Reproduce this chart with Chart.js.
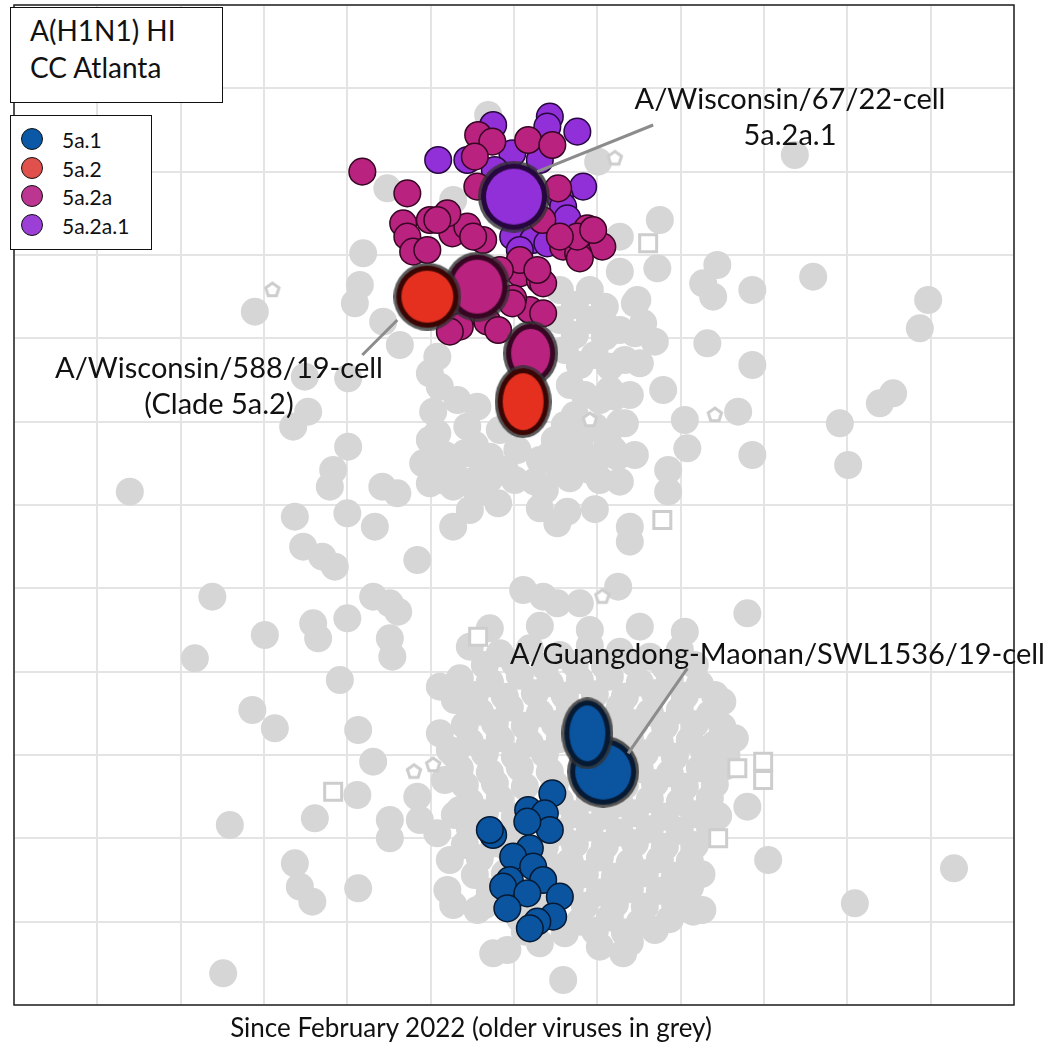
<!DOCTYPE html>
<html>
<head>
<meta charset="utf-8">
<script src="https://cdn.jsdelivr.net/npm/chart.js@4.4.1/dist/chart.umd.min.js"></script>
<style>
  body { margin: 0; background: #fff; font-family: Lato, "Open Sans", sans-serif; color: #111; }
  #wrap { position: relative; width: 1046px; height: 1042px; }
  .box { position: absolute; box-sizing: border-box; background: #fff; border: 1.5px solid #111; }
  .lbl { position: absolute; white-space: nowrap; line-height: 36px; }
  .row { position: absolute; left: 10px; height: 24px; line-height: 24px; font-size: 21px; }
  .dot { position: absolute; left: 0; top: 0; width: 22px; height: 22px; box-sizing: border-box; border-radius: 50%; border: 1.5px solid #111; }
  .row span { position: absolute; left: 41px; top: 0; }
</style>
</head>
<body>
<div id="wrap">
  <canvas id="map" width="1046" height="1042"></canvas>

  <div class="box" style="left:10px;top:7px;width:213px;height:96px;font-size:28px;line-height:37px;padding:4px 0 0 19px;">A(H1N1) HI<br>CC Atlanta</div>
  <div class="box" id="legend" style="left:10px;top:115px;width:142px;height:135px;"></div>

  <div class="lbl" style="left:590px;top:80px;width:400px;text-align:center;font-size:29px;">A/Wisconsin/67/22-cell<br>5a.2a.1</div>
  <div class="lbl" style="left:19px;top:349px;width:400px;text-align:center;font-size:29px;">A/Wisconsin/588/19-cell<br>(Clade 5a.2)</div>
  <div class="lbl" style="left:510px;top:635px;font-size:29px;">A/Guangdong-Maonan/SWL1536/19-cell</div>
  <div class="lbl" style="left:171px;top:1009px;width:600px;text-align:center;font-size:26px;">Since February 2022 (older viruses in grey)</div>
</div>

<script>
// clade names as in the legend
const clades = ['5a.1', '5a.2', '5a.2a', '5a.2a.1'];

// older viruses, map units (1 grid square = 1 antigenic unit)
const greyOutliers = [
  [9.37,10.20],[5.69,10.68],[4.48,9.80],[5.27,9.66],[7.01,10.12],[7.75,9.42],[7.27,9.22],[4.19,9.02],
  [7.72,8.84],[8.44,8.88],[8.27,8.66],[8.39,8.50],[8.86,8.58],[9.59,8.74],[10.97,8.46],[10.87,8.12],
  [8.32,7.94],[8.86,7.68],[10.55,7.34],[10.39,7.22],[9.91,6.98],[10.01,6.48],[8.69,7.12],[8.05,7.02],
  [8.08,6.68],[8.86,6.60],[7.85,6.42],[7.85,6.16],[7.39,5.74],[7.39,5.56],[7.25,5.02],[8.80,4.70],
  [9.05,1.74],[10.09,1.22],[11.28,1.64],[8.80,2.38],[8.65,3.20],[8.50,3.64],[8.26,1.14],[8.11,1.42],
  [1.39,6.16],[2.89,8.32],[2.38,4.90],[3.01,4.44],[2.17,4.16],[2.86,3.54],[3.13,3.32],[2.59,2.16],[2.51,0.38]
];
const greyMiddle = [
  [4.15,8.64],[4.09,8.42],[4.43,8.20],[4.63,7.92],[4.01,7.52],[3.49,7.54],[3.53,7.12],[3.35,6.94],
  [4.01,6.70],[3.83,6.42],[3.79,6.22],[3.37,5.86],[4.00,5.90],[4.33,5.74],[4.42,6.22],[4.60,6.14],
  [4.91,6.50],[4.99,6.26],[5.03,7.12],[4.99,6.78],[3.47,5.50],[3.70,5.38],[3.85,5.26],[4.84,5.34],
  [4.31,4.90],[4.51,4.82],[5.08,7.78],[4.99,7.58]
];
const greyUpper = [
  [7.48,8.46],[7.55,8.18],[7.69,7.96],[7.79,7.38],[7.24,6.58],[7.27,6.98],[7.27,8.80],[7.12,8.14],
  [5.11,7.42],[5.32,7.26],[5.56,7.18],[5.44,6.94],[5.08,6.86],[4.99,6.54],[5.62,6.48],[6.04,6.66],
  [6.31,6.54],[5.27,6.22],[5.56,6.14],[5.81,6.02],[5.27,5.74],[6.52,5.78],[6.11,4.98],[6.35,4.90],
  [6.52,4.82],[6.79,4.82],[7.15,7.38],[7.19,6.66],[7.12,6.78],[6.55,8.58],[6.91,8.58],[6.55,8.22],
  [6.91,8.22],[7.27,8.10],[6.61,7.86],[6.97,7.80],[7.33,7.74],[6.67,7.44],[7.03,7.26],[7.39,7.32],
  [6.73,7.08],[6.49,6.78],[6.79,6.78],[5.83,6.90],[5.53,6.72],[6.55,6.42],[6.91,6.42],[5.29,6.54],
  [5.89,6.42],[6.37,6.18],
  [6.73,8.40],[7.09,8.38],[7.45,8.42],[6.73,8.04],[7.09,8.02],[7.45,8.06],[6.79,7.68],[7.15,7.66],
  [7.51,7.70],[6.85,7.32],[7.21,7.30],[6.61,6.96],[6.97,6.94],[7.33,6.98],[5.17,6.60],[5.41,6.62],
  [5.71,6.58],[6.43,6.60],[6.73,6.62],[7.03,6.58],[7.45,6.60],[5.11,6.30],[5.41,6.28],[5.71,6.32],
  [6.01,6.30],[6.25,6.28],[6.67,6.32],[7.03,6.30],[7.27,6.28],[5.47,5.94],[6.31,5.96],[6.64,5.92],[6.97,5.95]
];
const greyLower = [
  [3.59,4.58],[3.65,4.40],[4.00,4.64],[4.61,4.72],[4.51,4.40],[4.54,4.18],[3.91,3.90],[5.11,3.82],
  [4.13,3.30],[4.31,2.92],[4.12,2.52],[3.61,2.24],[4.51,2.22],[4.51,2.00],[4.84,2.50],[4.87,2.22],
  [5.08,2.06],[3.37,1.70],[3.43,1.42],[3.58,1.24],[4.13,1.40],[5.20,1.38],[5.56,1.14],[5.75,0.62],
  [5.11,3.26],[5.23,3.06],[5.71,3.86],[5.51,3.62],[6.59,0.30],[7.31,0.62],[8.15,1.12],[5.92,0.66],
  [5.27,1.20],[5.29,3.66],[5.17,2.70],[5.35,2.34],[5.23,1.74],
  [5.71,4.52],[6.31,4.55],[6.91,4.50],[7.51,4.54],[8.05,4.48],
  [5.47,4.30],[5.83,4.22],[6.19,4.28],[6.55,4.20],[6.91,4.31],[7.27,4.24],[7.63,4.18],[7.99,4.26],
  [5.65,4.08],[6.01,4.10],[6.37,4.06],[6.73,4.09],[7.09,4.07],[7.45,4.10],[7.81,4.06],[8.17,4.08],
  [5.35,3.92],[5.71,3.88],[6.07,3.95],[6.43,3.86],[6.79,3.90],[7.15,3.94],[7.51,3.87],[7.87,3.91],[8.23,3.85],
  [5.53,3.72],[5.89,3.70],[6.25,3.74],[6.61,3.71],[6.97,3.73],[7.33,3.70],[7.69,3.74],[8.05,3.71],[8.41,3.72],
  [5.59,3.52],[5.95,3.57],[6.31,3.50],[6.67,3.55],[7.27,3.58],[7.63,3.51],[7.99,3.54],[8.35,3.49],
  [5.41,3.36],[5.77,3.38],[6.13,3.35],[6.49,3.37],[7.15,3.34],[7.45,3.38],[7.81,3.35],[8.17,3.37],[8.50,3.34],
  [5.47,3.16],[5.83,3.20],[6.19,3.14],[6.55,3.19],[7.39,3.21],[7.75,3.15],[8.11,3.18],[8.41,3.13],
  [5.29,3.00],[5.65,3.02],[6.01,2.98],[6.37,3.01],[7.21,2.99],[7.57,3.02],[7.93,2.98],[8.29,3.01],[8.55,3.00],
  [5.35,2.84],[5.71,2.79],[6.07,2.85],[6.43,2.80],[7.51,2.83],[7.87,2.78],[8.23,2.84],[8.53,2.86],
  [5.41,2.64],[5.77,2.66],[6.13,2.62],[6.49,2.65],[7.33,2.63],[7.69,2.66],[8.05,2.62],[8.41,2.65],
  [5.47,2.44],[5.83,2.48],[6.55,2.45],[6.91,2.49],[7.27,2.42],[7.63,2.47],[7.99,2.44],[8.35,2.48],
  [5.29,2.28],[5.65,2.30],[6.01,2.26],[6.73,2.29],[7.09,2.27],[7.45,2.30],[7.81,2.26],[8.17,2.29],[8.45,2.27],
  [5.47,2.12],[6.55,2.08],[6.91,2.13],[7.27,2.07],[7.63,2.11],[7.99,2.09],[8.35,2.14],
  [5.41,1.92],[5.77,1.94],[6.37,1.90],[6.73,1.93],[7.09,1.91],[7.45,1.94],[7.81,1.90],[8.17,1.92],
  [5.59,1.76],[6.67,1.72],[7.03,1.77],[7.39,1.71],[7.75,1.75],[8.11,1.73],
  [5.53,1.56],[5.89,1.58],[6.49,1.55],[6.85,1.57],[7.21,1.54],[7.57,1.58],[7.93,1.55],[8.25,1.57],
  [5.71,1.36],[6.67,1.40],[7.03,1.35],[7.39,1.39],[7.75,1.37],[8.11,1.41],
  [5.65,1.20],[6.25,1.22],[6.85,1.19],[7.21,1.21],[7.57,1.18],[7.93,1.22],
  [6.07,1.04],[6.79,1.00],[7.15,1.05],[7.51,0.99],[7.87,1.03],
  [6.13,0.88],[6.61,0.86],[6.97,0.89],[7.33,0.87],[7.69,0.90],
  [6.31,0.74],[7.03,0.70],[7.39,0.75],
  [6.00,2.10],[6.20,1.30],[5.90,1.90],[6.40,1.70]
];
// older sera / reference antigens drawn hollow
const greySquares = [[7.61,9.14],[7.78,5.82],[5.57,4.42],[3.83,2.56],[8.99,2.92],[8.99,2.70],[8.68,2.84],[8.45,2.00]];
const greyPentagons = [[7.21,10.16],[3.10,8.58],[8.41,7.08],[7.06,4.90],[6.91,7.02],[4.80,2.80],[5.03,2.88]];

// viruses since February 2022, by clade
const clade5a1 = [
  [6.46,2.54],[6.17,2.34],[6.37,2.30],[6.43,2.10],[6.16,2.20],[5.75,2.04],[5.71,2.10],[6.19,1.88],
  [5.99,1.78],[6.23,1.66],[6.35,1.50],[5.95,1.50],[5.87,1.42],[6.16,1.34],[6.55,1.30],[5.92,1.16],
  [6.47,1.06],[6.28,1.00],[6.19,0.92]
];
const clade5a2a = [
  [4.18,10.00],[4.72,9.74],[5.57,10.44],[5.74,10.36],[5.53,10.18],[6.17,10.38],[6.46,10.32],[5.56,9.82],
  [6.53,9.80],[4.67,9.38],[4.72,9.22],[4.79,9.04],[4.99,9.42],[5.26,9.26],[5.44,9.34],[5.63,9.18],
  [6.34,9.42],[6.88,9.32],[7.06,9.10],[6.59,9.10],[6.77,9.02],[5.38,8.26],[5.68,8.20],[5.81,8.10],
  [6.07,8.78],[6.31,8.70],[6.19,8.34],[6.35,8.30],[6.07,8.94],[6.79,8.96],[6.76,9.22],[6.55,9.22],
  [5.20,9.50],[5.35,8.14],[5.23,8.08],[6.35,8.66],[6.28,8.82],[6.95,9.30],[5.08,9.42],[4.96,9.06],
  [5.51,9.22],[5.99,8.48],[5.83,8.82],[5.98,8.42]
];
const clade5a2a1 = [
  [5.75,10.56],[6.43,10.66],[6.40,10.54],[6.76,10.48],[5.09,10.14],[5.44,10.14],[6.83,9.82],[6.55,9.70],
  [6.59,9.58],[6.64,9.44],[5.98,10.22],[5.99,9.22],[6.23,9.18],[6.40,9.14],[5.77,10.02],[6.31,10.14],[6.07,9.06]
];

// reference viruses (bigger marks), listed bottom-most first
const refX = [5.56, 4.96, 6.20, 6.11, 7.07, 6.88, 6.00];
const refY = [8.62, 8.50, 7.82, 7.24, 2.80, 3.26, 9.70];
const refClade = ['5a.2a', '5a.2', '5a.2a', '5a.2', '5a.1', '5a.1', '5a.2a.1'];

const cladeFill = { '5a.1': '#0b55a0', '5a.2': '#e5301f', '5a.2a': '#b9237f', '5a.2a.1': '#9130d8' };
const cladeEdge = { '5a.1': '#061a33', '5a.2': '#3a0604', '5a.2a': '#360623', '5a.2a.1': '#26083f' };
const legendFill = { '5a.1': '#0a58a6', '5a.2': '#e0504c', '5a.2a': '#bb3591', '5a.2a.1': '#9b3fd6' };
// marker size of each reference (w, h in px)
const refSize = [[66, 70], [68, 68], [55, 65], [57, 73], [72, 72], [52, 72], [72, 72]];

const pts = arr => arr.map(([x, y]) => ({ x, y }));

function refMarker(fill, edge, w, h) {
    const c = document.createElement('canvas');
    c.width = w; c.height = h;
    const g = c.getContext('2d');
    const ell = (inset, color) => {
        g.beginPath();
        g.ellipse(w / 2, h / 2, w / 2 - inset, h / 2 - inset, 0, 0, Math.PI * 2);
        g.fillStyle = color;
        g.fill();
    };
    ell(0, 'rgba(50,50,50,0.8)');
    ell(3, edge);
    ell(8, fill);
    return c;
}

function pentagon() {
    const c = document.createElement('canvas');
    c.width = c.height = 22;
    const g = c.getContext('2d');
    g.beginPath();
    for (let i = 0; i < 5; i++) {
        const a = -Math.PI / 2 + i * 2 * Math.PI / 5;
        g.lineTo(11 + 7 * Math.cos(a), 11 + 7 * Math.sin(a));
    }
    g.closePath();
    g.fillStyle = '#fff';
    g.fill();
    g.strokeStyle = '#cdcdcd';
    g.lineWidth = 3;
    g.stroke();
    return c;
}

// legend box
const legend = document.getElementById('legend');
clades.forEach((c, i) => {
    const row = document.createElement('div');
    row.className = 'row';
    row.style.top = (12 + i * 28.5) + 'px';
    row.innerHTML = `<div class="dot" style="background:${legendFill[c]}"></div><span>${c}</span>`;
    legend.appendChild(row);
});

// leader lines from the labels to their reference viruses
const leaders = [
    [[6.28, 10.00], [7.67, 10.56]],
    [[4.18, 7.80], [4.60, 8.22]],
    [[8.08, 4.04], [7.37, 3.02]]
];

const framePlugin = {
    id: 'frame',
    afterDatasetsDraw(chart) {
        const { ctx, chartArea: a, scales: { x, y } } = chart;
        ctx.save();
        ctx.strokeStyle = '#8c8c8c';
        ctx.lineWidth = 3;
        leaders.forEach(([p, q]) => {
            ctx.beginPath();
            ctx.moveTo(x.getPixelForValue(p[0]), y.getPixelForValue(p[1]));
            ctx.lineTo(x.getPixelForValue(q[0]), y.getPixelForValue(q[1]));
            ctx.stroke();
        });
        ctx.strokeStyle = '#222';
        ctx.lineWidth = 1.5;
        ctx.strokeRect(a.left, a.top, a.right - a.left, a.bottom - a.top);
        ctx.restore();
    }
};

const smallPoint = (clade, data) => ({
    data: pts(data),
    pointRadius: 13.3,
    pointBorderWidth: 1.5,
    pointBackgroundColor: cladeFill[clade],
    pointBorderColor: cladeEdge[clade]
});

const mapAxis = (fitKey) => ({
    min: 0, max: 12,
    ticks: { display: false, stepSize: 1 },
    grid: { color: '#e4e4e4', lineWidth: 2, drawTicks: false },
    border: { display: false },
    afterFit(scale) { scale[fitKey] = 0; }
});

new Chart(document.getElementById('map'), {
    type: 'scatter',
    data: {
        datasets: [
            {
                data: refX.map((x, i) => ({ x, y: refY[i] })),
                pointStyle: refClade.map((c, i) => refMarker(cladeFill[c], cladeEdge[c], refSize[i][0], refSize[i][1])),
                pointRadius: 30,
                order: 0
            },
            Object.assign(smallPoint('5a.2a', clade5a2a), { order: 1 }),
            Object.assign(smallPoint('5a.2a.1', clade5a2a1), { order: 2 }),
            Object.assign(smallPoint('5a.1', clade5a1), { order: 3 }),
            {
                data: pts(greyPentagons),
                pointStyle: pentagon(),
                order: 4
            },
            {
                data: pts(greySquares),
                pointStyle: 'rect',
                pointRadius: 12,
                pointBorderWidth: 3,
                pointBackgroundColor: '#fff',
                pointBorderColor: '#cdcdcd',
                order: 5
            },
            {
                data: pts([...greyOutliers, ...greyMiddle, ...greyUpper, ...greyLower]),
                pointRadius: 14,
                pointBorderWidth: 0,
                pointBackgroundColor: '#d6d6d6',
                order: 6
            }
        ]
    },
    options: {
        responsive: false,
        animation: false,
        devicePixelRatio: 1,
        events: [],
        layout: { autoPadding: false, padding: { left: 14, top: 5, right: 32, bottom: 37 } },
        plugins: { legend: { display: false }, tooltip: { enabled: false } },
        scales: {
            x: mapAxis('height'),
            y: mapAxis('width')
        }
    },
    plugins: [framePlugin]
});
</script>
</body>
</html>
